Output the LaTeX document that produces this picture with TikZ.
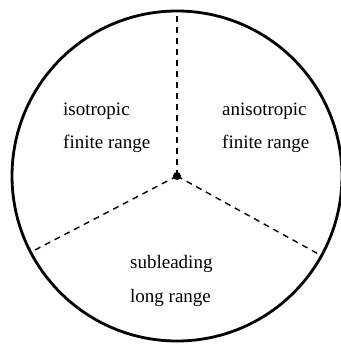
\documentclass[tikz,border=0pt]{standalone}
\usepackage{fontspec}
\setmainfont{Liberation Serif}
\begin{document}
\begin{tikzpicture}[x=1pt,y=-1pt,
  rim/.style={line width=2.8pt},
  sector/.style={line width=1.4pt,dash pattern=on 6pt off 5pt},
  lbl/.style={anchor=base west,inner sep=0pt,font=\fontsize{19}{23}\selectfont}]
\useasboundingbox (0,0) rectangle (340,345);
\coordinate (c) at (177,176);
\coordinate (t) at (177,11);
\coordinate (l) at (33,251);
\coordinate (r) at (322,256);
\draw[rim] (c) circle[radius=165];
\draw[sector] (c) -- (t);
\draw[sector] (c) -- (l);
\draw[sector] (c) -- (r);
\fill (c) circle[radius=4];
\node[lbl] (iso1) at (63,115) {isotropic};
\node[lbl] (iso2) at (63,148) {finite range};
\node[lbl] (an1) at (222,115) {anisotropic};
\node[lbl] (an2) at (222,148) {finite range};
\node[lbl] (sub1) at (130,268) {subleading};
\node[lbl] (sub2) at (130,302) {long range};
\end{tikzpicture}
\end{document}
